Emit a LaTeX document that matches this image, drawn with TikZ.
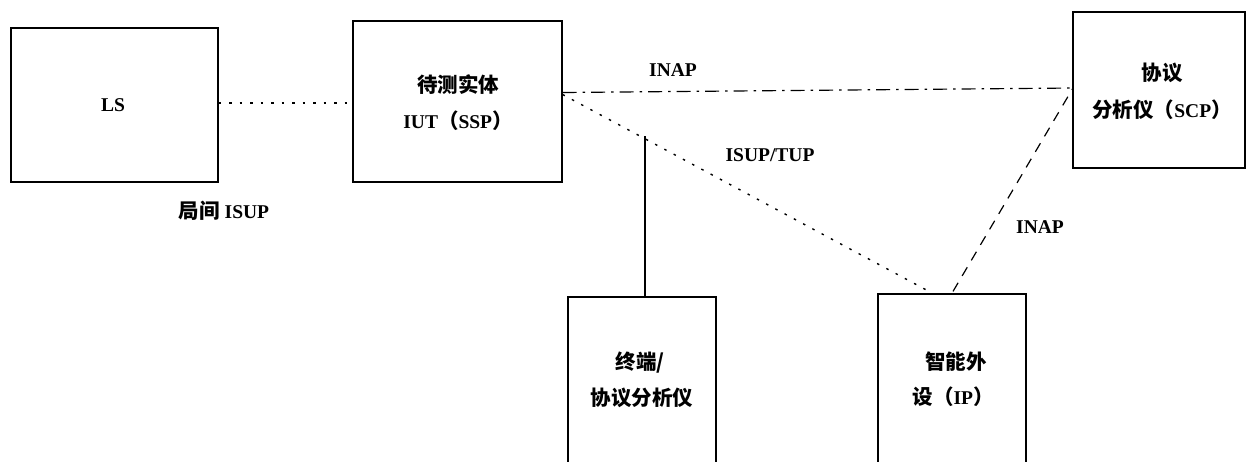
\documentclass[tikz,border=0pt]{standalone}
\usepackage{fontspec}
\setmainfont{Liberation Serif}
\newfontfamily\cjk{Noto Sans CJK SC}
\newcommand\cjkt[1]{{\fontsize{20.5}{22}\selectfont\cjk #1}}
\begin{document}
\begin{tikzpicture}[x=1pt,y=-1pt,
  box/.style={draw,line width=1.2pt,inner sep=0pt,rectangle},
  lbl/.style={inner sep=0pt,font=\fontsize{19.5}{21}\selectfont\bfseries},
  cl/.style={inner sep=0pt,font=\fontsize{20.5}{22}\selectfont\cjk\bfseries},
  dotline/.style={line width=1.4pt,dash pattern=on 2.5pt off 8pt},
  dashdot/.style={line width=1.2pt,dash pattern=on 14pt off 6pt on 2.5pt off 6pt},
  dashline/.style={line width=1.2pt,dash pattern=on 10pt off 8pt},
  solidline/.style={line width=1.1pt}]
\useasboundingbox (0,0) rectangle (1246,461);
\clip (0,0) rectangle (1246,461);
% boxes
\node[box,minimum width=207pt,minimum height=154pt] (ls) at (114.5,105) {};
\node[box,minimum width=209pt,minimum height=161pt] (iut) at (457.5,101.5) {};
\node[box,minimum width=172pt,minimum height=156pt] (scp) at (1159,90) {};
\node[box,minimum width=148pt,minimum height=200pt] (term) at (642,397) {};
\node[box,minimum width=148pt,minimum height=200pt] (ip) at (952,394) {};
% texts
\node[lbl] (tls) at (113,105) {LS};
\node[cl] (tiut1) at (458,85) {待测实体};
\node[lbl] (tiut2) at (458,121) {IUT\cjkt{（}SSP\cjkt{）}};
\node[lbl] (tisup) at (224,211) {\cjkt{局间} ISUP};
\node[cl] (tscp1) at (1162,73) {协议};
\node[lbl] (tscp2) at (1162,110) {\cjkt{分析仪（}SCP\cjkt{）}};
\node[cl] (tterm1) at (640,363) {终端/};
\node[cl] (tterm2) at (642,398) {协议分析仪};
\node[cl] (tip1) at (956,362) {智能外};
\node[lbl] (tip2) at (953,397) {\cjkt{设（}IP\cjkt{）}};
\node[lbl] (tinap1) at (673,70) {INAP};
\node[lbl] (tisuptup) at (770,155) {ISUP/TUP};
\node[lbl] (tinap2) at (1040,227) {INAP};
% connectors
\coordinate (tp) at (645,136);
\draw[dotline] ([yshift=2pt]ls.east) -- ([yshift=2pt]iut.west |- ls.east);
\draw[dashdot] ([yshift=9pt]iut.east) -- ([yshift=2pt]scp.west);
\draw[dotline] ([yshift=7pt]iut.east) -- ([xshift=-23pt,yshift=2pt]ip.north);
\draw[dashline] ([xshift=1pt,yshift=2pt]ip.north) -- ([yshift=1pt]scp.west);
\draw[solidline] ([xshift=3pt]term.north) -- (tp);
\end{tikzpicture}
\end{document}
